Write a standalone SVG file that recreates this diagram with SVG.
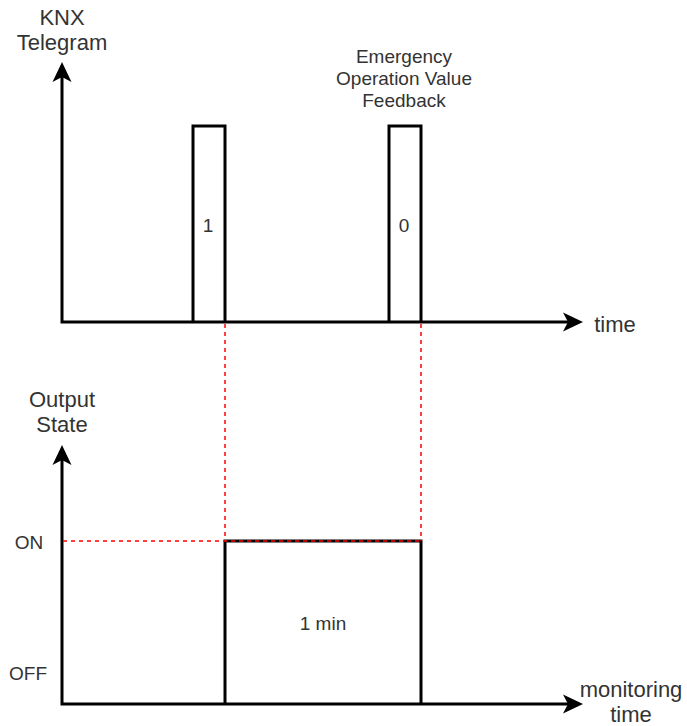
<svg xmlns="http://www.w3.org/2000/svg" width="687" height="726" viewBox="0 0 687 726">
  <defs>
    <!-- classic notched arrowhead, 20 long x 20 wide; reference point at the notch -->
    <marker id="arrow" viewBox="0 0 20 20" refX="5" refY="10" markerWidth="20" markerHeight="20" markerUnits="userSpaceOnUse" orient="auto-start-reverse">
      <path d="M20,10 L0,0.5 L5,10 L0,19.5 Z" fill="#000"/>
    </marker>
    <style>
      .axis { fill: none; stroke: #000; stroke-width: 3; stroke-linejoin: miter; }
      .pulse { fill: none; stroke: #000; stroke-width: 3; stroke-linejoin: miter; }
      .guide { fill: none; stroke: #ff0000; stroke-width: 1.5; stroke-dasharray: 4 4; }
      .lbl { font-family: "Liberation Sans", Arial, sans-serif; fill: #333; text-anchor: middle; }
      .big { font-size: 22px; }
      .small { font-size: 19px; }
    </style>
  </defs>

  <rect width="687" height="726" fill="#fff"/>

  <!-- telegram chart -->
  <g id="telegram-axes">
    <path class="axis" d="M62,77 V322 H568" marker-start="url(#arrow)" marker-end="url(#arrow)"/>
    <text class="lbl big" x="62" y="25">KNX</text>
    <text class="lbl big" x="62" y="50">Telegram</text>
    <text class="lbl big" x="615" y="332">time</text>
  </g>

  <g id="telegram-1">
    <polyline class="pulse" points="193,322 193,126 225,126 225,322"/>
    <text class="lbl small" x="208" y="232">1</text>
  </g>

  <g id="telegram-0">
    <polyline class="pulse" points="389,322 389,126 421,126 421,322"/>
    <text class="lbl small" x="404" y="232">0</text>
    <text class="lbl small" x="404" y="63">Emergency</text>
    <text class="lbl small" x="404" y="85">Operation Value</text>
    <text class="lbl small" x="404" y="107">Feedback</text>
  </g>

  <!-- output state chart -->
  <g id="output-axes">
    <path class="axis" d="M62,460 V704 H568" marker-start="url(#arrow)" marker-end="url(#arrow)"/>
    <text class="lbl big" x="62" y="407">Output</text>
    <text class="lbl big" x="62" y="432">State</text>
    <text class="lbl small" x="29" y="549">ON</text>
    <text class="lbl small" x="28" y="680">OFF</text>
    <text class="lbl big" x="631" y="697">monitoring</text>
    <text class="lbl big" x="631" y="722">time</text>
  </g>

  <g id="output-on">
    <polyline class="pulse" points="225,704 225,541 421,541 421,704"/>
    <text class="lbl small" x="323" y="630">1 min</text>
  </g>

  <!-- dashed guides linking the telegrams to the output state -->
  <g id="connectors">
    <line class="guide" x1="225" y1="324" x2="225" y2="541"/>
    <line class="guide" x1="421" y1="324" x2="421" y2="541"/>
    <line class="guide" x1="63" y1="541" x2="421" y2="541"/>
  </g>
</svg>
